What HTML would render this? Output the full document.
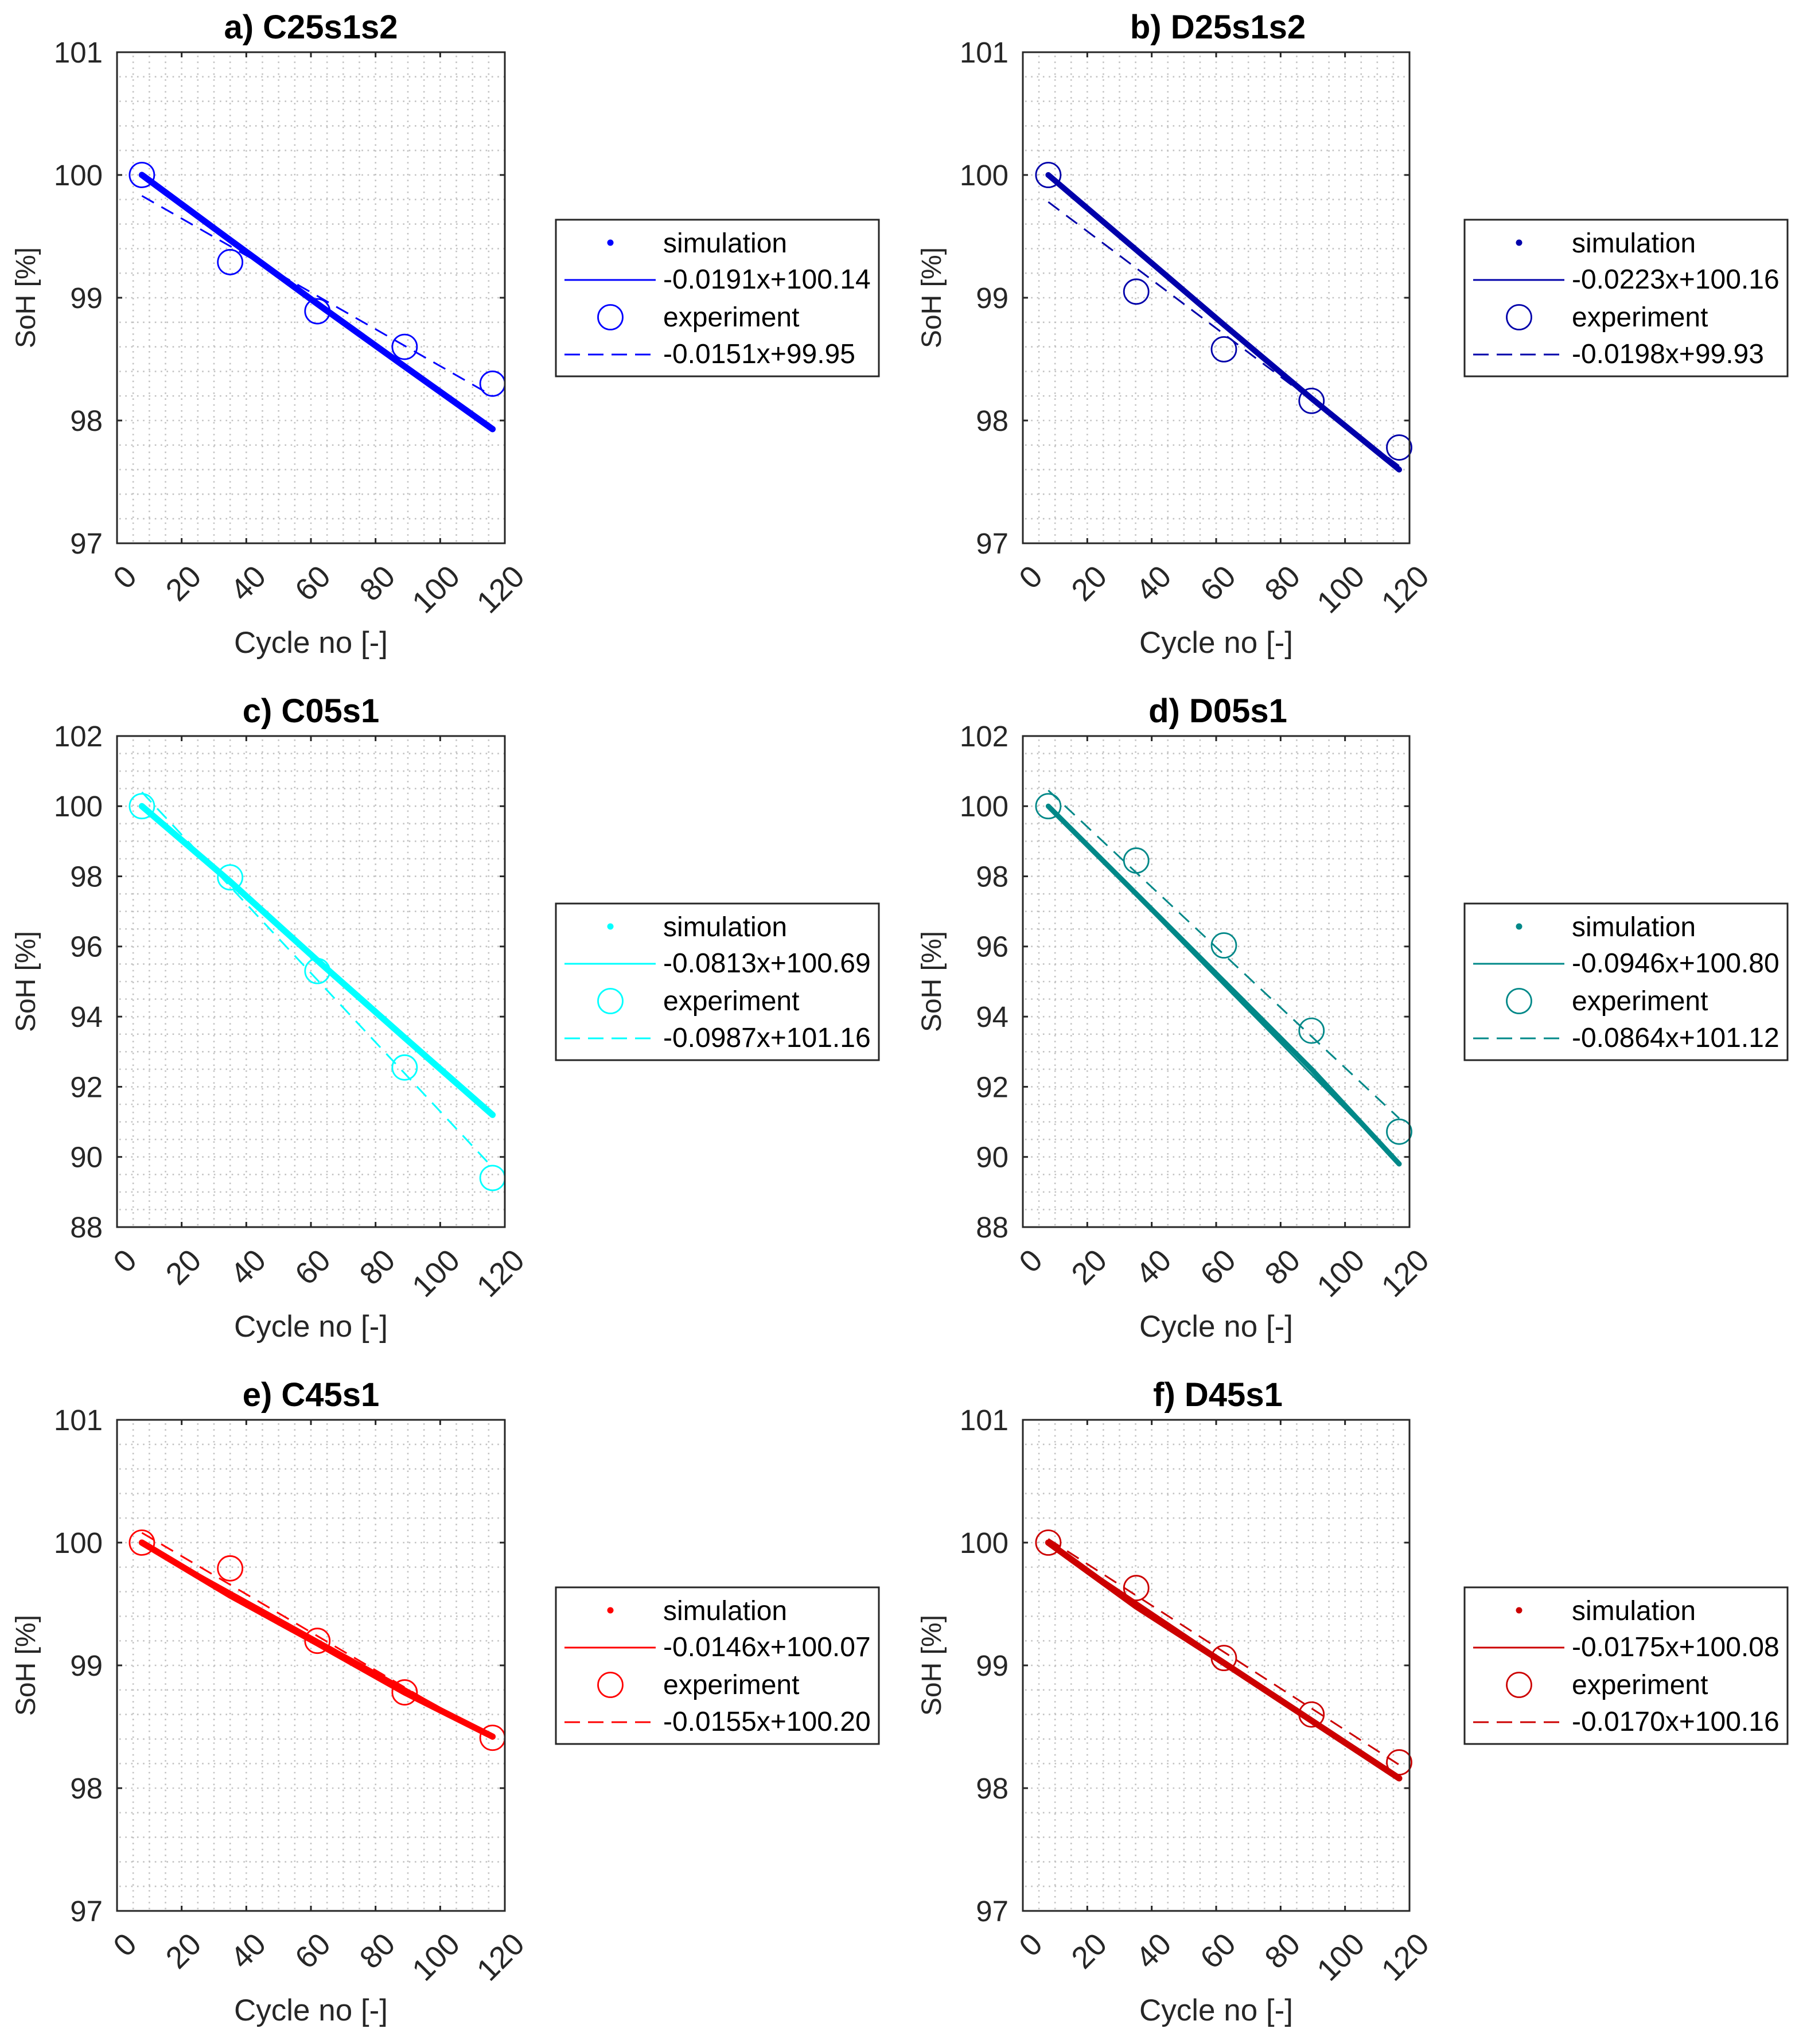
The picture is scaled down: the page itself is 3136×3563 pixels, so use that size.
<!DOCTYPE html>
<html lang="en">
<head>
<meta charset="utf-8">
<title>SoH vs Cycle number</title>
<style>
html,body{margin:0;padding:0;background:#fff;}
body{width:3136px;height:3563px;overflow:hidden;}
svg{display:block;}
text{font-family:"Liberation Sans",Arial,sans-serif;}
</style>
</head>
<body>
<svg id="fig" xmlns="http://www.w3.org/2000/svg" width="3136" height="3563" viewBox="0 0 3136 3563"></svg>
<script>
// ---- shared data ----
const xTicks = [0, 20, 40, 60, 80, 100, 120];
const xLimits = [0, 120];
const cyclesLeft = [7.7, 35, 62, 89, 116.2];
const cyclesRight = [7.9, 35.2, 62.4, 89.6, 116.8];

// ---- panel a ----
const titleA = 'a) C25s1s2';
const yTicksA = [97, 98, 99, 100, 101];
const simA = [100, 99.47, 98.95, 98.44, 97.93];
const simFitA = [100, 97.93];
const expA = [100, 99.29, 98.89, 98.6, 98.3];
const expFitA = [99.83, 98.2];
const legendA = ['simulation', '-0.0191x+100.14', 'experiment', '-0.0151x+99.95'];

// ---- panel b ----
const titleB = 'b) D25s1s2';
const yTicksB = [97, 98, 99, 100, 101];
const simB = [100, 99.39, 98.78, 98.18, 97.6];
const simFitB = [100, 97.6];
const expB = [100, 99.05, 98.58, 98.16, 97.78];
const expFitB = [99.78, 97.63];
const legendB = ['simulation', '-0.0223x+100.16', 'experiment', '-0.0198x+99.93'];

// ---- panel c ----
const titleC = 'c) C05s1';
const yTicksC = [88, 90, 92, 94, 96, 98, 100, 102];
const simC = [100, 97.85, 95.6, 93.4, 91.2];
const simFitC = [100, 91.2];
const expC = [100, 97.97, 95.3, 92.55, 89.4];
const expFitC = [100.4, 89.7];
const legendC = ['simulation', '-0.0813x+100.69', 'experiment', '-0.0987x+101.16'];

// ---- panel d ----
const titleD = 'd) D05s1';
const yTicksD = [88, 90, 92, 94, 96, 98, 100, 102];
const simD = [100, 97.5, 95, 92.5, 89.8];
const simFitD = [100, 89.8];
const expD = [100, 98.45, 96.03, 93.6, 90.72];
const expFitD = [100.45, 91.1];
const legendD = ['simulation', '-0.0946x+100.80', 'experiment', '-0.0864x+101.12'];

// ---- panel e ----
const titleE = 'e) C45s1';
const yTicksE = [97, 98, 99, 100, 101];
const simE = [100, 99.57, 99.18, 98.78, 98.42];
const simFitE = [100, 98.42];
const expE = [100, 99.79, 99.2, 98.78, 98.41];
const expFitE = [100.08, 98.4];
const legendE = ['simulation', '-0.0146x+100.07', 'experiment', '-0.0155x+100.20'];

// ---- panel f ----
const titleF = 'f) D45s1';
const yTicksF = [97, 98, 99, 100, 101];
const simF = [100, 99.48, 99.02, 98.55, 98.08];
const simFitF = [100, 98.08];
const expF = [100, 99.63, 99.06, 98.6, 98.21];
const expFitF = [100.03, 98.19];
const legendF = ['simulation', '-0.0175x+100.08', 'experiment', '-0.0170x+100.16'];

const NS = 'http://www.w3.org/2000/svg';
const fig = document.getElementById('fig');
const INK = '#262626';

function mk(tag, attrs, parent) {
  const n = document.createElementNS(NS, tag);
  for (const k in attrs) n.setAttribute(k, attrs[k]);
  parent.appendChild(n);
  return n;
}

function drawPanel(p) {
  const W = p.right - p.left, H = 856;
  const L = p.left, T = p.top, R = p.right, B = p.top + H;
  const cycles = p.cycles;
  const fitStart = cycles[0], fitEnd = cycles[cycles.length - 1];
  const yMin = p.yTicks[0], yMax = p.yTicks[p.yTicks.length - 1];
  const sx = v => L + (v - xLimits[0]) / (xLimits[1] - xLimits[0]) * W;
  const sy = v => B - (v - yMin) / (yMax - yMin) * H;

  const g = mk('g', {}, fig);
  
  

  // plot background
  const bg = mk('rect', {x: L, y: T, width: W, height: H, fill: '#fff'}, g);
  
  

  // minor grid
  const grid = mk('g', {stroke: '#c2c2c2', 'stroke-width': 2.6, 'stroke-dasharray': '2.6 7.7', fill: 'none'}, g);
  
  
  for (let c = xLimits[0] + 5; c < xLimits[1]; c += 5) {
    const v = mk('line', {x1: sx(c), x2: sx(c), y1: T + 6, y2: B}, grid);
    
    
  }
  for (let s = yMin + p.minor; s < yMax - 1e-6; s += p.minor) {
    const h = mk('line', {x1: L + 4, x2: R, y1: sy(s), y2: sy(s)}, grid);
    
    
  }

  // simulation series
  const simPts = cycles.map((c, i) => sx(c) + ',' + sy(p.sim[i])).join(' ');
  const simLine = mk('polyline', {points: simPts, fill: 'none', stroke: p.color, 'stroke-width': p.thick, 'stroke-linecap': 'round', 'stroke-linejoin': 'round'}, g);
  
  

  const simFit = mk('line', {x1: sx(fitStart), y1: sy(p.simFit[0]), x2: sx(fitEnd), y2: sy(p.simFit[1]), stroke: p.color, 'stroke-width': 3}, g);
  
  

  // experiment fit
  const expFit = mk('line', {x1: sx(fitStart), y1: sy(p.expFit[0]), x2: sx(fitEnd), y2: sy(p.expFit[1]), stroke: p.color, 'stroke-width': 3, 'stroke-dasharray': '24 15'}, g);
  
  

  // experiment markers
  cycles.forEach((c, i) => {
    const m = mk('circle', {cx: sx(c), cy: sy(p.exp[i]), r: 21.5, fill: 'none', stroke: p.color, 'stroke-width': 2.8}, g);
    
    
  });

  // axes box
  const box = mk('rect', {x: L, y: T, width: W, height: H, fill: 'none', stroke: INK, 'stroke-width': 3}, g);
  
  

  // x ticks
  xTicks.forEach(t => {
    const x = sx(t);
    if (t !== xLimits[0] && t !== xLimits[1]) {
      const a = mk('line', {x1: x, x2: x, y1: B, y2: B - 9, stroke: INK, 'stroke-width': 3}, g);
      
      
      const b = mk('line', {x1: x, x2: x, y1: T, y2: T + 9, stroke: INK, 'stroke-width': 3}, g);
      
      
    }
    const ax = x + 24, ay = B + 48;
    const lab = mk('text', {x: ax, y: ay, dy: '0.35em', 'text-anchor': 'end', 'font-size': 54, fill: INK, transform: 'rotate(-45 ' + ax + ' ' + ay + ')'}, g);
    
    
    lab.textContent = t;
  });

  // y ticks
  p.yTicks.forEach(t => {
    const y = sy(t);
    if (t !== yMin && t !== yMax) {
      const a = mk('line', {x1: L, x2: L + 9, y1: y, y2: y, stroke: INK, 'stroke-width': 3}, g);
      
      
      const b = mk('line', {x1: R, x2: R - 9, y1: y, y2: y, stroke: INK, 'stroke-width': 3}, g);
      
      
    }
    const lab = mk('text', {x: L - 25, y: y, dy: '0.35em', 'text-anchor': 'end', 'font-size': 51, fill: INK}, g);
    
    
    lab.textContent = t;
  });

  // title
  const title = mk('text', {x: (L + R) / 2 + p.titleShift, y: T - 24, 'text-anchor': 'middle', 'font-size': 58, 'font-weight': 'bold', fill: '#000'}, g);
  
  
  title.textContent = p.title;

  // axis labels
  const xl = mk('text', {x: (L + R) / 2, y: B + 191, 'text-anchor': 'middle', 'font-size': 53, fill: INK}, g);
  
  
  xl.textContent = 'Cycle no [-]';

  const ylx = L - 143, yly = T + 428;
  const yl = mk('text', {x: ylx, y: yly, 'text-anchor': 'middle', 'font-size': 48, fill: INK, transform: 'rotate(-90 ' + ylx + ' ' + yly + ')'}, g);
  
  
  yl.textContent = 'SoH [%]';

  // legend
  const lx = p.legendLeft, ly = T + 292;
  const lg = mk('g', {}, g);
  
  

  const lb = mk('rect', {x: lx, y: ly, width: 563, height: 273, fill: '#fff', stroke: INK, 'stroke-width': 3}, lg);
  
  

  const dot = mk('circle', {cx: lx + 95, cy: ly + 40, r: 5.5, fill: p.color}, lg);
  
  

  const ll = mk('line', {x1: lx + 15, x2: lx + 174, y1: ly + 105, y2: ly + 105, stroke: p.color, 'stroke-width': 3}, lg);
  
  

  const lc = mk('circle', {cx: lx + 95, cy: ly + 170, r: 21.5, fill: 'none', stroke: p.color, 'stroke-width': 2.8}, lg);
  
  

  const ld = mk('line', {x1: lx + 15, x2: lx + 166, y1: ly + 235, y2: ly + 235, stroke: p.color, 'stroke-width': 3, 'stroke-dasharray': '27 14'}, lg);
  
  

  const rows = [57, 120, 186, 250];
  p.legend.forEach((s, i) => {
    const t = mk('text', {x: lx + 187, y: ly + rows[i], 'font-size': 48, fill: '#000'}, lg);
    
    
    t.textContent = s;
  });
}

const leftCol = {left: 204, right: 880, legendLeft: 969, cycles: cyclesLeft, titleShift: 0};
const rightCol = {left: 1783, right: 2457, legendLeft: 2553, cycles: cyclesRight, titleShift: 3};

drawPanel({...leftCol, top: 91, title: titleA, yTicks: yTicksA, minor: 0.2, sim: simA, simFit: simFitA, exp: expA, expFit: expFitA, legend: legendA, color: '#0000ff', thick: 11});
drawPanel({...rightCol, top: 91, title: titleB, yTicks: yTicksB, minor: 0.2, sim: simB, simFit: simFitB, exp: expB, expFit: expFitB, legend: legendB, color: '#0000aa', thick: 10});
drawPanel({...leftCol, top: 1283, title: titleC, yTicks: yTicksC, minor: 0.5, sim: simC, simFit: simFitC, exp: expC, expFit: expFitC, legend: legendC, color: '#00ffff', thick: 11});
drawPanel({...rightCol, top: 1283, title: titleD, yTicks: yTicksD, minor: 0.5, sim: simD, simFit: simFitD, exp: expD, expFit: expFitD, legend: legendD, color: '#008888', thick: 9});
drawPanel({...leftCol, top: 2475, title: titleE, yTicks: yTicksE, minor: 0.2, sim: simE, simFit: simFitE, exp: expE, expFit: expFitE, legend: legendE, color: '#ff0000', thick: 11});
drawPanel({...rightCol, top: 2475, title: titleF, yTicks: yTicksF, minor: 0.2, sim: simF, simFit: simFitF, exp: expF, expFit: expFitF, legend: legendF, color: '#cc0000', thick: 11});
</script>
</body>
</html>
